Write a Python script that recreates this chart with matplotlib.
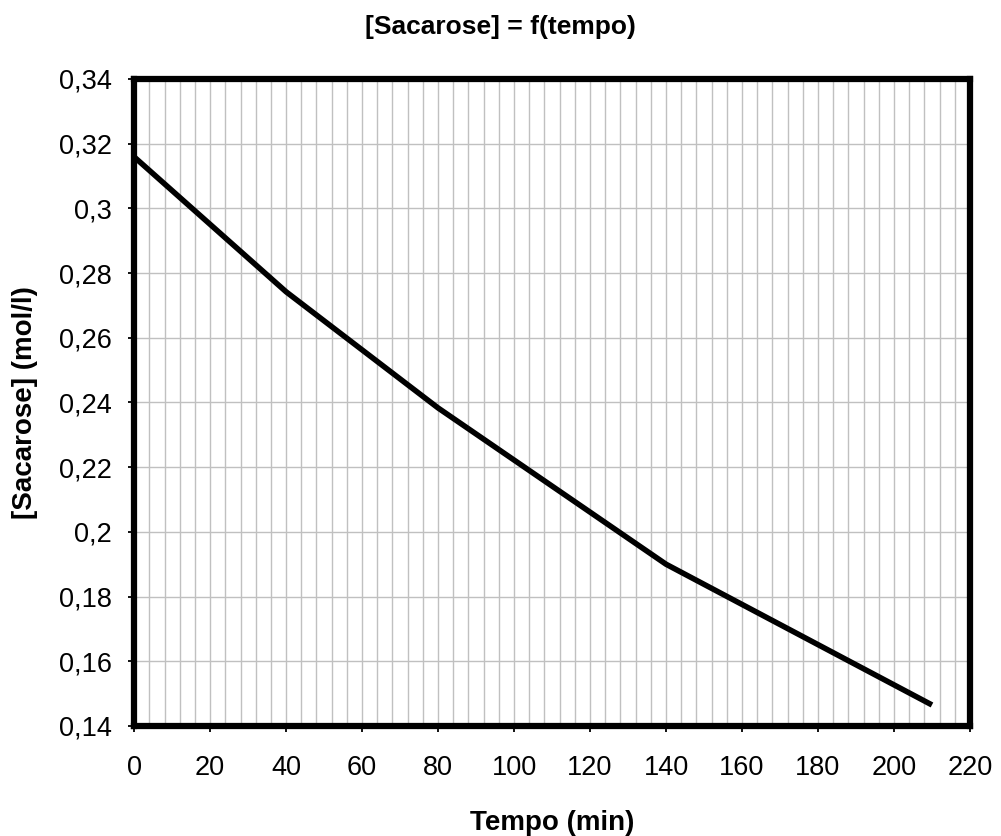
import numpy as np
import matplotlib.pyplot as plt

plt.rcParams['font.family'] = ['Liberation Sans', 'DejaVu Sans']

# leitura da curva
tempo = [0, 40, 80, 140, 210]
sacarose = [0.3159, 0.2742, 0.2383, 0.1900, 0.1465]

x_ticks = list(range(0, 221, 20))
y_ticks = [0.14, 0.16, 0.18, 0.20, 0.22, 0.24, 0.26, 0.28, 0.30, 0.32, 0.34]
y_labels = ["0,14", "0,16", "0,18", "0,2", "0,22", "0,24", "0,26", "0,28", "0,3", "0,32", "0,34"]

fig = plt.figure(figsize=(10.01, 8.36), dpi=100)
ax = fig.add_axes([0.134, 0.1316, 0.835, 0.774])

ax.plot(tempo, sacarose, color="black", linewidth=4.0, solid_capstyle="butt", zorder=3)

ax.set_xlim(0, 220)
ax.set_ylim(0.14, 0.34)
ax.set_xticks(x_ticks)
ax.set_xticks(np.arange(0, 221, 4), minor=True)
ax.set_yticks(y_ticks)
ax.set_yticklabels(y_labels)

ax.grid(which="major", color="#c0c0c0", linewidth=1.0)
ax.grid(which="minor", axis="x", color="#c0c0c0", linewidth=1.0)
ax.tick_params(which="minor", length=0)
ax.tick_params(which="major", direction="out", length=4, width=1.3, labelsize=19.5)
ax.tick_params(axis="x", pad=17)
ax.tick_params(axis="y", pad=12)

for s in ax.spines.values():
    s.set_linewidth(4.5)
    s.set_zorder(4)

# titulo centrado na figura, nao no grafico
fig.text(0.5, 0.968, "[Sacarose] = f(tempo)", fontsize=19, fontweight="bold",
         ha="center", va="center")
ax.set_xlabel("Tempo (min)", fontsize=20, fontweight="bold", labelpad=21)
ax.set_ylabel("[Sacarose] (mol/l)", fontsize=20, fontweight="bold", labelpad=15)

fig.savefig("out.png", dpi=100)
